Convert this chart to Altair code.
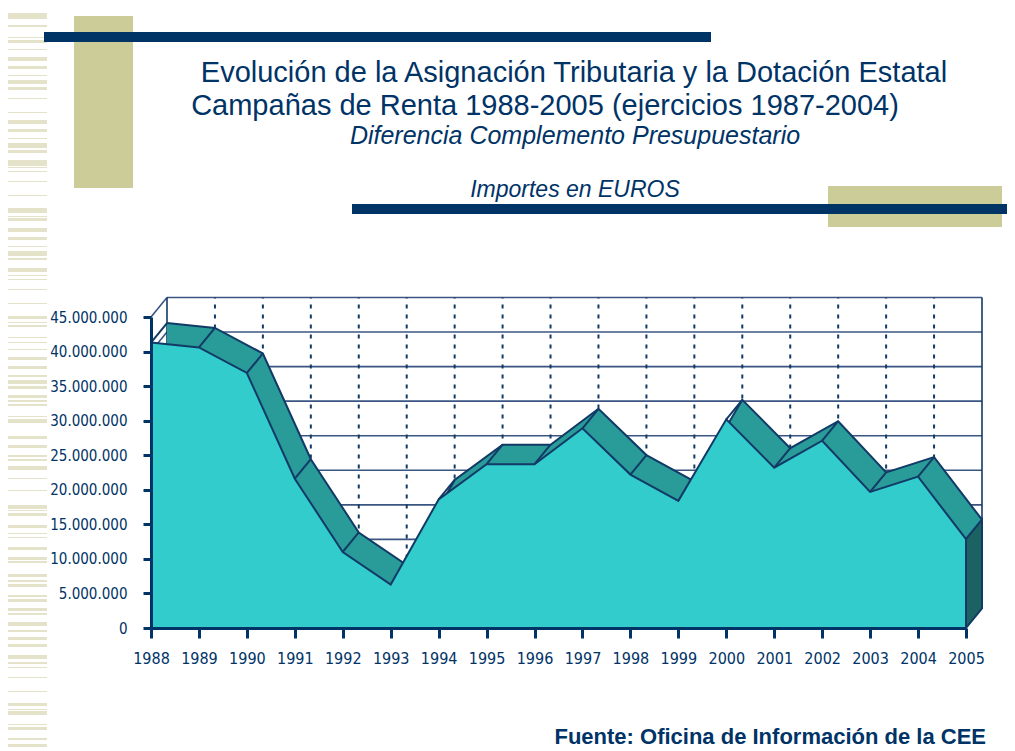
import altair as alt
import pandas as pd

# ---------------- data ----------------
years = [1988, 1989, 1990, 1991, 1992, 1993, 1994, 1995, 1996,
         1997, 1998, 1999, 2000, 2001, 2002, 2003, 2004, 2005]
importes = [41300000, 40600000, 36900000, 21600000, 11000000, 6300000,
            18600000, 23700000, 23700000, 28900000, 22200000, 18400000,
            30200000, 23200000, 27100000, 19700000, 21900000, 12850000]
y_ticks = [0, 5000000, 10000000, 15000000, 20000000, 25000000,
           30000000, 35000000, 40000000, 45000000]
titulo1 = ["Evolución de la Asignación Tributaria y la Dotación Estatal"]
titulo2 = ["Campañas de Renta 1988-2005 (ejercicios 1987-2004)"]
titulo3 = ["Diferencia Complemento Presupuestario"]
titulo4 = ["Importes en EUROS"]
fuente = ["Fuente: Oficina de Información de la CEE"]

# ---------------- geometry / style ----------------
W, H = 815, 311
X0, X1 = 1988, 2005
YMAX = 45000000
DEPTH_X, DEPTH_Y = 16, 19.5          # 3-D depth in pixels
DXY = DEPTH_X * (X1 - X0) / W        # depth expressed in data units
DYV = DEPTH_Y * YMAX / H
OX, OY = 151, 317                    # page position of plot origin
SVG_W, SVG_H = 999, 743

NAVY = "#003366"
LINE = "#123a66"
FRONT = "#33cccc"
TOP = "#299b99"
SIDE = "#1d6262"
FONT = "Liberation Sans"
NARROW = "Liberation Sans Narrow, DejaVu Sans Condensed, Liberation Sans"

xs = alt.Scale(domain=[X0, X1], nice=False, zero=False)
ys = alt.Scale(domain=[0, YMAX], nice=False)

axis_common = dict(domainColor=NAVY, tickColor=NAVY, labelColor=NAVY,
                   labelFont=NARROW, grid=False, zindex=2,
                   domainWidth=3, tickWidth=3, title=None,
                   labelFlush=False, labelOverlap=False)
X_AX = alt.Axis(values=years, format="d", tickSize=10, labelPadding=12,
                labelFontSize=16, **axis_common)
Y_AX = alt.Axis(values=y_ticks, tickSize=8, labelPadding=16, labelFontSize=15,
                labelExpr="replace(format(datum.value, ',d'), regexp(',', 'g'), '.')",
                **axis_common)


def X(field):
    return alt.X(field, scale=xs, axis=X_AX)


def Y(field):
    return alt.Y(field, scale=ys, axis=Y_AX)


df = pd.DataFrame({"anio": years, "importe": importes})
df["anio_b"] = df["anio"] + DXY
df["importe_b"] = df["importe"] + DYV
df["base_b"] = DYV

side = pd.DataFrame({
    "anio": [X1, X1 + DXY],
    "top": [importes[-1], importes[-1] + DYV],
    "bot": [0, DYV],
})

grid = pd.DataFrame({"t": y_ticks})
grid["gx"] = X0 + DXY
grid["gx2"] = X1 + DXY
grid["gy"] = grid["t"] + DYV
grid["lx"] = X0

vgrid = pd.DataFrame({"anio": years})
vgrid["vx"] = vgrid["anio"] + DXY
vgrid["vy"] = DYV
vgrid["vy2"] = YMAX + DYV
vgrid["edge"] = vgrid["anio"].isin([X0, X1])

# ---------------- slide decoration ----------------
stripes = [(5,1),(13,6),(25,2),(37,1),(40,3),(49,1),(57,4),(66,3),(75,1),(80,4),(87,3),(98,1),
           (112,1),(120,4),(129,3),(138,1),(143,5),(150,3),(160,6),(167,1),(171,1),(181,1),
           (195,1),(208,5),(216,1),(218,3),(228,4),(237,3),(246,1),(251,5),(258,2),(268,4),
           (275,1),(279,1),(289,1),(303,1),(316,3),(322,1),(325,2),(337,1),(342,1),(349,1),
           (357,3),(366,3),(375,2),(380,4),(386,3),(395,3),(400,2),(404,2),(416,1),(419,4),
           (436,3),(445,3),(455,2),(459,2),(466,4),(478,1),(490,1),(505,4),(510,1),(513,3),
           (525,3),(533,1),(537,1),(547,3),(557,3),(561,2),(574,3),(580,2),(584,3),(595,2),
           (599,3),(608,3),(613,2),(622,4),(630,2),(637,3),(644,3),(655,4),(662,2),(667,1),
           (677,1),(691,1),(703,3),(709,1),(711,4),(724,1),(727,3),(738,2),(744,3)]
rects = [(0, 47, y, y + h, "#e4e2c8") for (y, h) in stripes]
rects += [(74, 133, 16, 188, "#cccc99"), (44, 711, 32, 42, NAVY),
          (828, 1002, 186, 227, "#cccc99"), (352, 1015, 204, 214, NAVY)]
deco = pd.DataFrame(rects, columns=["x", "x2", "y", "y2", "c"])
deco["x"] -= OX
deco["x2"] -= OX
deco["y"] -= OY
deco["y2"] -= OY

deco_layer = alt.Chart(deco).mark_rect().encode(
    x=alt.X("x:Q", scale=None), x2="x2:Q",
    y=alt.Y("y:Q", scale=None), y2="y2:Q",
    color=alt.Color("c:N", scale=None),
)

# ---------------- chart layers ----------------
wall_h = alt.Chart(grid).mark_rule(color="#3a5582", strokeWidth=1.6).encode(
    x=X("gx:Q"), x2="gx2:Q", y=Y("gy:Q"),
)
wall_l = alt.Chart(grid).mark_rule(color="#3a5582", strokeWidth=1.6).encode(
    x=X("lx:Q"), x2="gx:Q", y=Y("t:Q"), y2="gy:Q",
)
wall_v = alt.Chart(vgrid).transform_filter("!datum.edge").mark_rule(
    color=LINE, strokeWidth=2, strokeDash=[4, 6]).encode(
    x=X("vx:Q"), y=Y("vy:Q"), y2="vy2:Q",
)
wall_e = alt.Chart(vgrid).transform_filter("datum.edge").mark_rule(
    color=LINE, strokeWidth=1.6).encode(
    x=X("vx:Q"), y=Y("vy:Q"), y2="vy2:Q",
)

back_area = alt.Chart(df).mark_area(color=TOP, opacity=1).encode(
    x=X("anio_b:Q"), y=Y("importe_b:Q"), y2="base_b:Q",
)
back_line = alt.Chart(df).mark_line(color=LINE, strokeWidth=2).encode(
    x=X("anio_b:Q"), y=Y("importe_b:Q"),
)
edges = alt.Chart(df).mark_rule(color=LINE, strokeWidth=2).encode(
    x=X("anio:Q"), x2="anio_b:Q", y=Y("importe:Q"), y2="importe_b:Q",
)
front_area = alt.Chart(df).mark_area(color=FRONT, opacity=1).encode(
    x=X("anio:Q"), y=Y("importe:Q"),
)
front_line = alt.Chart(df).mark_line(color=LINE, strokeWidth=2).encode(
    x=X("anio:Q"), y=Y("importe:Q"),
)
side_face = alt.Chart(side).mark_area(color=SIDE, opacity=1, stroke=LINE,
                                      strokeWidth=2).encode(
    x=X("anio:Q"), y=Y("top:Q"), y2="bot:Q",
)


def texto(lines, x, y, size, align="center", style="normal", weight="normal"):
    return alt.Chart(pd.DataFrame({"t": lines})).mark_text(
        font=FONT, fontSize=size, fontStyle=style, fontWeight=weight,
        color=NAVY, align=align, baseline="alphabetic",
    ).encode(text="t:N", x=alt.value(x - OX), y=alt.value(y - OY))


textos = [
    texto(titulo1, 574, 82, 29),
    texto(titulo2, 545, 115, 29),
    texto(titulo3, 575, 144, 25, style="italic"),
    texto(titulo4, 575, 197, 23, style="italic"),
    texto(fuente, 986, 744, 22, align="right", weight="bold"),
]

chart = alt.layer(
    deco_layer, wall_h, wall_l, wall_v, wall_e,
    back_area, back_line, edges,
    front_area, front_line, side_face,
    *textos,
).properties(
    width=W, height=H,
    padding={"left": OX - 8, "top": OY - 8, "right": SVG_W - (OX - 8) - W,
             "bottom": SVG_H - (OY - 8) - H},
    autosize=alt.AutoSizeParams(type="none"),
    background="white",
).configure_view(stroke=None)

chart.save("out.html", embed_options={"renderer": "svg", "actions": False})
